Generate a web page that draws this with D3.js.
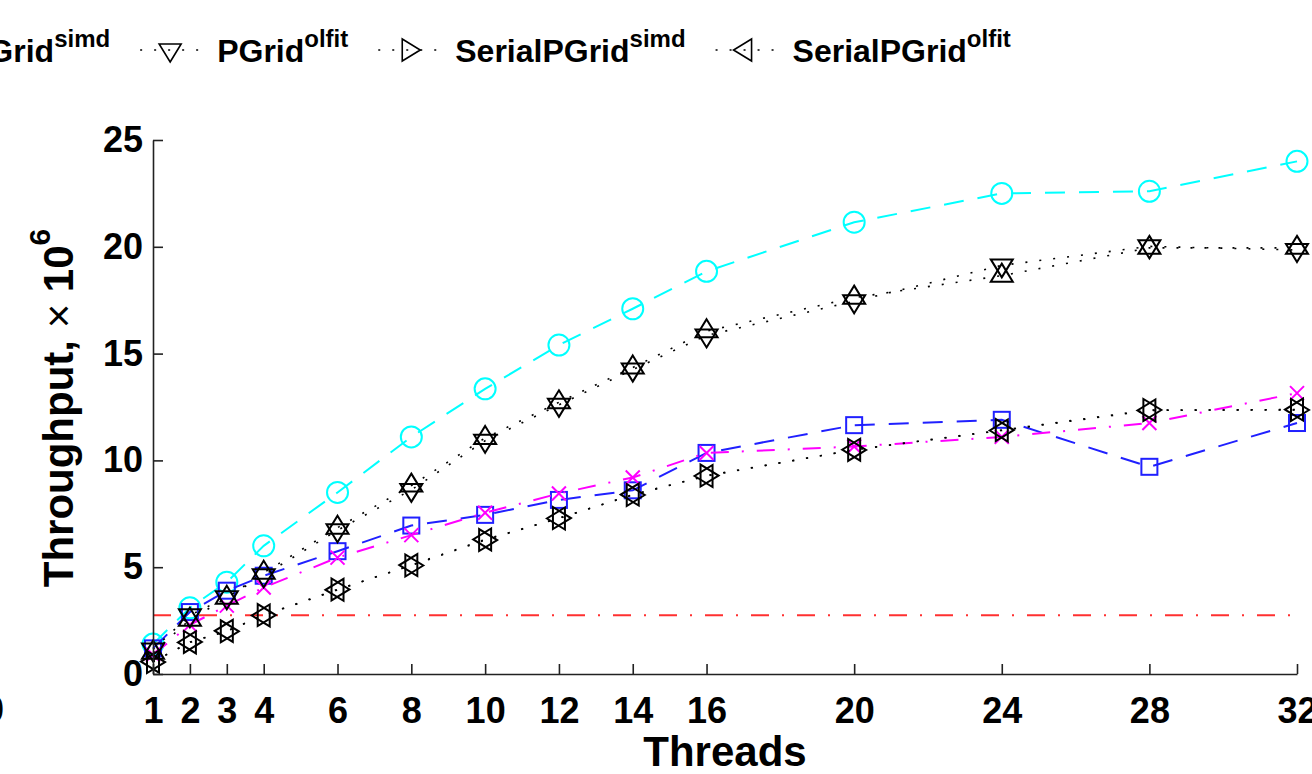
<!DOCTYPE html>
<html>
<head>
<meta charset="utf-8">
<script src="https://cdn.jsdelivr.net/npm/d3@7"></script>
<style>
html, body { margin: 0; padding: 0; background: #fff; overflow: hidden; }
svg { display: block; font-family: "Liberation Sans", Arial, Helvetica, sans-serif; font-weight: bold; }
</style>
</head>
<body>
<svg width="1312" height="774"></svg>
<script>
// thread counts on the x axis
const threads = [1, 2, 3, 4, 6, 8, 10, 12, 14, 16, 20, 24, 28, 32];
const yTicks = [0, 5, 10, 15, 20, 25];

// throughput, x10^6
const cyanVals = [1.4, 3.1, 4.3, 6.0, 8.5, 11.1, 13.35, 15.4, 17.1, 18.85, 21.15, 22.5, 22.6, 24.0];
const blueVals = [1.2, 2.9, 3.9, 4.6, 5.75, 6.95, 7.45, 8.15, 8.6, 10.35, 11.65, 11.9, 9.7, 11.75];
const magentaVals = [0.9, 2.3, 3.2, 4.05, 5.45, 6.5, 7.55, 8.45, 9.2, 10.35, 10.65, 11.1, 11.75, 13.15];
const pgridSimd = [1.0, 2.54, 3.57, 4.74, 6.85, 8.82, 11.05, 12.72, 14.35, 16.05, 17.62, 18.65, 19.95, 19.95];
const pgridOlfit = [1.15, 2.75, 3.59, 4.62, 6.73, 8.62, 10.92, 12.6, 14.25, 15.85, 17.45, 19.13, 20.02, 19.85];
const serialSimd = [0.56, 1.5, 2.0, 2.76, 3.96, 5.08, 6.27, 7.3, 8.38, 9.29, 10.49, 11.42, 12.36, 12.36];
const serialOlfit = [0.58, 1.48, 2.02, 2.74, 3.94, 5.1, 6.3, 7.28, 8.4, 9.27, 10.5, 11.4, 12.34, 12.38];
// flat reference line
const baseThreads = [1, 32];
const baseVals = [2.75, 2.75];

const legendItems = [
  { name: 'PGrid', sup: 'simd', marker: 'up' },
  { name: 'PGrid', sup: 'olfit', marker: 'down' },
  { name: 'SerialPGrid', sup: 'simd', marker: 'right' },
  { name: 'SerialPGrid', sup: 'olfit', marker: 'left' },
];

const svg = d3.select('svg');

const x = d3.scaleLinear().domain([1, 32]).range([153, 1297]);
const y = d3.scaleLinear().domain([0, 25]).range([674, 140]);

// triangle paths, centred on the centroid (like matlab markers)
const TW = 22, TH = 18;
function tri(dir) {
  const w = TW / 2, a = TH * 2 / 3, b = TH / 3;
  if (dir === 'up') return `M0,${-a}L${w},${b}L${-w},${b}Z`;
  if (dir === 'down') return `M0,${a}L${w},${-b}L${-w},${-b}Z`;
  if (dir === 'right') return `M${a},0L${-b},${w}L${-b},${-w}Z`;
  return `M${-a},0L${b},${w}L${b},${-w}Z`;
}

const line = d3.line().x(d => x(d[0])).y(d => y(d[1]));

function drawSeries(vals, color, dash, width, marker, xs) {
  const xsv = xs || threads;
  const pts = xsv.map((t, i) => [t, vals[i]]);
  const g = svg.append('g');
  g.append('path')
    .attr('d', line(pts))
    .attr('fill', 'none')
    .attr('stroke', color)
    .attr('stroke-width', width)
    .attr('stroke-dasharray', dash);
  if (!marker) return;
  const m = g.selectAll('.m').data(pts).enter().append('g')
    .attr('transform', d => `translate(${x(d[0])},${y(d[1])})`);
  if (marker === 'circle') {
    m.append('circle').attr('r', 10.5).attr('fill', 'none').attr('stroke', color).attr('stroke-width', 2);
  } else if (marker === 'square') {
    m.append('rect').attr('x', -8).attr('y', -8).attr('width', 16).attr('height', 16)
      .attr('fill', 'none').attr('stroke', color).attr('stroke-width', 2);
  } else if (marker === 'x') {
    m.append('path').attr('d', 'M-7,-7L7,7M-7,7L7,-7').attr('stroke', color).attr('stroke-width', 2);
  } else {
    m.append('path').attr('d', tri(marker)).attr('fill', 'none').attr('stroke', color)
      .attr('stroke-width', 2).attr('stroke-linejoin', 'miter');
  }
}

const DASH = '20,14';
const DASHDOT = '18,13,2,13';
const DOT = '2,12';

drawSeries(cyanVals, '#00ffff', DASH, 2, 'circle');
drawSeries(blueVals, '#2020ff', DASH, 2, 'square');
drawSeries(magentaVals, '#ff00ff', DASHDOT, 2, 'x');
drawSeries(baseVals, '#ff3030', DASHDOT, 2, null, baseThreads);
drawSeries(pgridSimd, '#000', DOT, 1.6, 'up');
drawSeries(pgridOlfit, '#000', DOT, 1.6, 'down');
drawSeries(serialSimd, '#000', DOT, 1.6, 'right');
drawSeries(serialOlfit, '#000', DOT, 1.6, 'left');

// axes
const yAxis = svg.append('g').attr('transform', 'translate(153,0)')
  .call(d3.axisLeft(y).tickValues(yTicks).tickSize(-10).tickSizeOuter(0).tickPadding(10));
const xAxis = svg.append('g').attr('transform', 'translate(0,674)')
  .call(d3.axisBottom(x).tickValues(threads).tickSize(-10).tickSizeOuter(0).tickPadding(23));
[xAxis, yAxis].forEach(a => {
  a.selectAll('path, line').attr('stroke', '#222').attr('stroke-width', 1.6);
  a.selectAll('text').attr('font-size', 36).attr('font-weight', 'bold').attr('fill', '#000')
    .attr('font-family', '"Liberation Sans", Arial, sans-serif');
});

// stray label from neighbouring panel
svg.append('text').attr('x', -6).attr('y', 722).attr('text-anchor', 'middle')
  .attr('font-size', 36).text('0');

// axis titles
svg.append('text').attr('x', 725).attr('y', 766).attr('text-anchor', 'middle')
  .attr('font-size', 42).text('Threads');

const yl = svg.append('text')
  .attr('transform', 'translate(73,408) rotate(-90)')
  .attr('text-anchor', 'middle').attr('font-size', 42);
yl.append('tspan').text('Throughput, ');
yl.append('tspan').attr('font-weight', 'normal').text('\u00d7 ');
yl.append('tspan').text('10');
yl.append('tspan').attr('font-size', 30).attr('dy', -23).text('6');

// legend (left part runs off the page)
let lx = -33;
const ly = 62;
legendItems.forEach((it, i) => {
  if (i > 0) {
    const sx = lx + 30;
    svg.append('line').attr('x1', sx).attr('x2', sx + 60).attr('y1', ly - 12).attr('y2', ly - 12)
      .attr('stroke', '#000').attr('stroke-width', 1.6).attr('stroke-dasharray', DOT);
    svg.append('path').attr('transform', `translate(${sx + 30},${ly - 12})`)
      .attr('d', tri(it.marker)).attr('fill', 'none').attr('stroke', '#000').attr('stroke-width', 1.6);
    lx = sx + 77;
  }
  const t = svg.append('text').attr('x', lx).attr('y', ly).attr('font-size', 32);
  t.append('tspan').text(it.name);
  t.append('tspan').attr('font-size', 24).attr('dy', -15).text(it.sup);
  lx += t.node().getComputedTextLength();
});
</script>
</body>
</html>
